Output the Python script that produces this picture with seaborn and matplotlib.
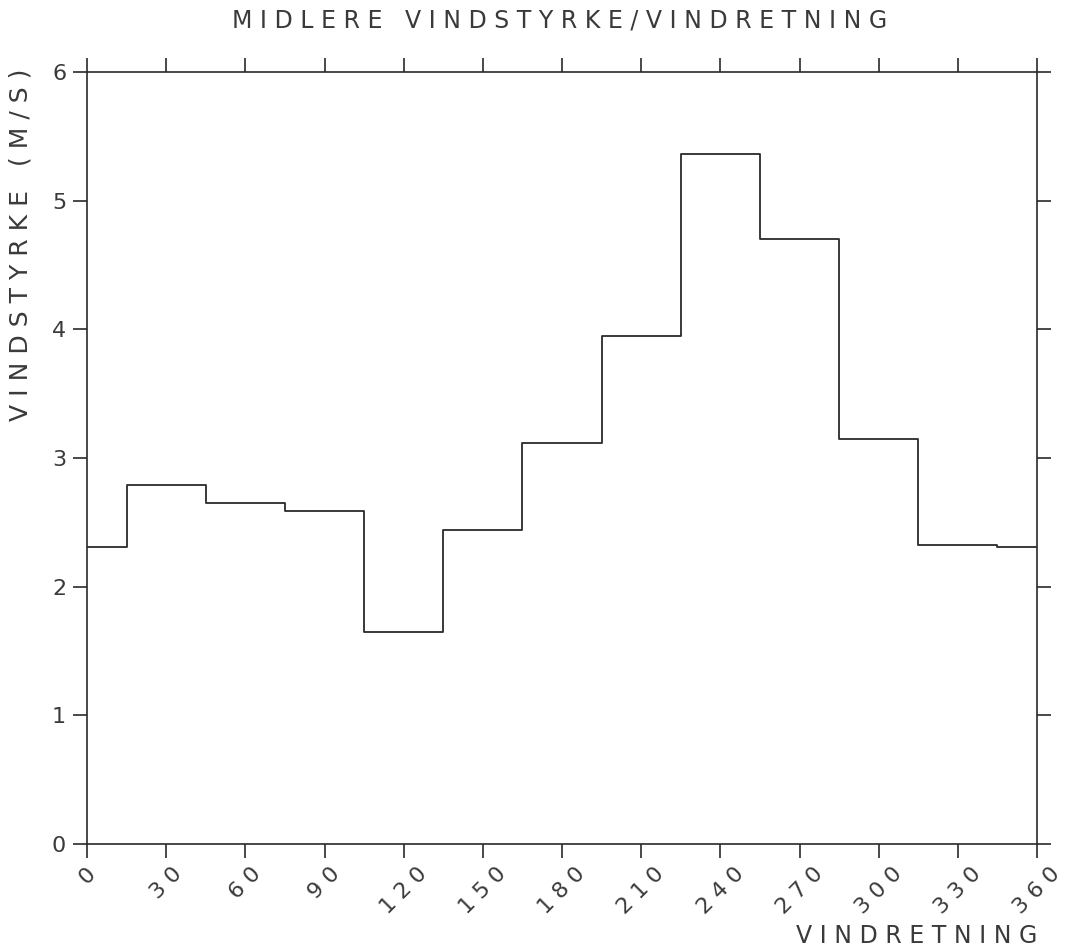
import matplotlib
matplotlib.use("Agg")
import matplotlib.pyplot as plt
import seaborn as sns
import pandas as pd

# Wind-direction sectors (degrees) and mean wind speed per sector (m/s)
sector_edges = [0, 15, 45, 75, 105, 135, 165, 195, 225, 255, 285, 315, 345, 360]
mean_speed = [2.31, 2.79, 2.65, 2.59, 1.65, 2.44, 3.12, 3.95, 5.36, 4.70, 3.15, 2.32, 2.31]
x_ticks = list(range(0, 361, 30))
y_ticks = [0, 1, 2, 3, 4, 5, 6]

title = "MIDLERE VINDSTYRKE/VINDRETNING"
xlabel = "VINDRETNING"
ylabel = "VINDSTYRKE (M/S)"


def spaced(text):
    """Plotter-style letter spacing."""
    return " ".join(text)


centres = [(a + b) / 2 for a, b in zip(sector_edges[:-1], sector_edges[1:])]
df = pd.DataFrame({"retning": centres, "styrke": mean_speed})

sns.set_theme(style="white")
plt.rcParams["font.family"] = ["DejaVu Sans"]
ink = "#2a2a2a"
text_ink = "#3a3a3a"

fig = plt.figure(figsize=(10.70, 9.49), dpi=100)
ax = fig.add_axes([87 / 1070, 1 - 844 / 949, (1037 - 87) / 1070, (844 - 72) / 949])

sns.histplot(data=df, x="retning", weights="styrke", bins=sector_edges,
             element="step", fill=False, color=ink, linewidth=1.3, ax=ax)

ax.set_xlim(0, 360)
ax.set_ylim(0, 6)
ax.set_xticks(x_ticks)
ax.set_yticks(y_ticks)
ax.set_xticklabels([spaced(str(t)) for t in x_ticks],
                   rotation=45, ha="center", fontsize=16, color=text_ink)
ax.set_yticklabels([str(t) for t in y_ticks], fontsize=16, color=text_ink)
ax.tick_params(axis="both", direction="out", length=10, width=1.2, color=ink,
               top=True, right=True, bottom=True, left=True,
               labeltop=False, labelright=False)
ax.tick_params(axis="x", pad=4)
ax.tick_params(axis="y", pad=5)

for sp in ax.spines.values():
    sp.set_visible(True)
    sp.set_color(ink)
    sp.set_linewidth(1.2)

ax.set_xlabel(spaced(xlabel), loc="right", fontsize=17, color=text_ink)
ax.xaxis.set_label_coords(1.0, -0.104)
ax.set_ylabel(spaced(ylabel), loc="top", fontsize=18, color=text_ink)
ax.yaxis.set_label_coords(-0.057, 1.005)
fig.text(560 / 1070, 1 - 21 / 949, spaced(title), ha="center", va="center",
         fontsize=17, color=text_ink)

fig.savefig("out.png", dpi=100, facecolor="white")
